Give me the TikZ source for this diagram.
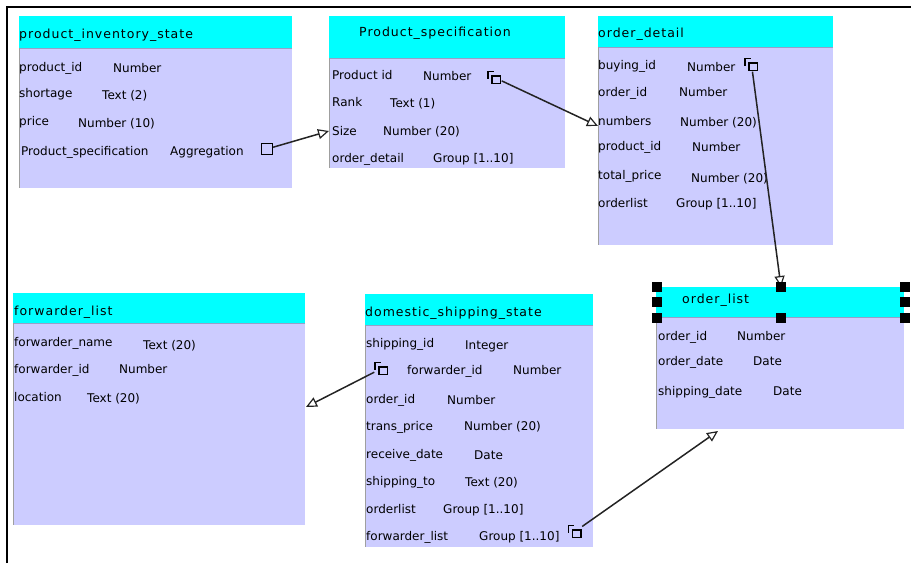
\documentclass[tikz,border=0pt]{standalone}
\usepackage{fontspec}
\setmainfont{DejaVu Sans}
\newfontfamily\titlefont[LetterSpace=8]{DejaVu Sans}
\usetikzlibrary{arrows.meta}

\definecolor{hdrcyan}{RGB}{0,255,255}
\definecolor{bodylav}{RGB}{204,204,255}
\definecolor{hdredge}{RGB}{150,160,200}
\definecolor{linkgray}{RGB}{35,35,35}

\tikzset{
  hdr/.style={fill=hdrcyan, draw=none, anchor=north west, inner sep=0, outer sep=0},
  bodybox/.style={fill=bodylav, draw=none, anchor=north west, inner sep=0, outer sep=0},
  hdrline/.style={draw=hdredge, line width=0.8pt},
  bodyedge/.style={draw=gray!75, line width=0.8pt},
  ttl/.style={anchor=west, inner sep=0, font=\titlefont\fontsize{12.5}{14}\selectfont,
    text height=9pt, text depth=2.5pt},
  fld/.style={anchor=west, inner sep=0, font=\fontsize{12}{14}\selectfont,
    text height=8.5pt, text depth=2.5pt},
  iconline/.style={draw=black, line width=1.3pt},
  link/.style={draw=linkgray, line width=1.5pt,
    -{Triangle[open, length=11pt, width=10pt, line width=1.2pt]}},
  handle/.style={fill=black, draw=none, minimum size=9.5pt, inner sep=0},
}

% entity box: name, x, y, width, header height, body height
\newcommand\erentity[6]{%
  \node[hdr, minimum width=#4pt, minimum height=#5pt] (#1h) at (#2,#3) {};
  \node[bodybox, minimum width=#4pt, minimum height=#6pt] (#1b) at (#1h.south west) {};
  \draw[hdrline] (#1h.south west) -- (#1h.south east);
  \draw[bodyedge] (#1b.north west) -- (#1b.south west);
}

% reference icon (two overlapping squares): name, x, y
\newcommand\refglyph[3]{%
  \node[inner sep=0, minimum size=14pt] (#1) at (#2,#3) {};
  \begin{scope}[shift={(#2,#3)}]
    \draw[iconline] (-6.5,1) -- (-6.5,-6) -- (-1,-6);
    \draw[iconline, fill=bodylav] (-2.5,-1.5) rectangle (6,6);
  \end{scope}
}

\begin{document}
\begin{tikzpicture}[x=1pt, y=-1pt]
\useasboundingbox (0,0) rectangle (911,563);

% outer frame (top and left edges)
\draw[line width=2.5pt] (7,563) -- (7,7) -- (911,7);

% ---------------- product_inventory_state ----------------
\erentity{pis}{19}{16}{273}{32}{140}
\node[ttl] (pisT) at (19,35) {product\_inventory\_state};
\node[fld] (pisN1) at (19,68)  {product\_id};
\node[fld] (pisV1) at (113,69) {Number};
\node[fld] (pisN2) at (19,94)  {shortage};
\node[fld] (pisV2) at (102,96) {Text (2)};
\node[fld] (pisN3) at (19,122) {price};
\node[fld] (pisV3) at (78,124) {Number (10)};
\node[fld] (pisN4) at (21,152) {Product\_specification};
\node[fld] (pisV4) at (170,152) {Aggregation};
\node[draw=black, line width=1.3pt, fill=bodylav, minimum size=11pt, inner sep=0] (pisSq) at (267,149) {};

% ---------------- Product_specification ----------------
\erentity{ps}{329}{16}{236}{42}{110}
\node[ttl] (psT) at (359,33) {Product\_specification};
\node[fld] (psN1) at (332,76)  {Product id};
\node[fld] (psV1) at (423,77)  {Number};
\node[fld] (psN2) at (332,103) {Rank};
\node[fld] (psV2) at (390,104) {Text (1)};
\node[fld] (psN3) at (332,132) {Size};
\node[fld] (psV3) at (383,132) {Number (20)};
\node[fld] (psN4) at (332,159) {order\_detail};
\node[fld] (psV4) at (433,159) {Group [1..10]};
\refglyph{psIc}{494.5}{77.5}

% ---------------- order_detail ----------------
\erentity{od}{598}{16}{235}{31}{198}
\node[ttl] (odT) at (598,34) {order\_detail};
\node[fld] (odN1) at (598,66)  {buying\_id};
\node[fld] (odV1) at (687,68)  {Number};
\node[fld] (odN2) at (598,93)  {order\_id};
\node[fld] (odV2) at (679,93)  {Number};
\node[fld] (odN3) at (598,122) {numbers};
\node[fld] (odV3) at (680,123) {Number (20)};
\node[fld] (odN4) at (598,147) {product\_id};
\node[fld] (odV4) at (692,148) {Number};
\node[fld] (odN5) at (598,176) {total\_price};
\node[fld] (odV5) at (691,179) {Number (20)};
\node[fld] (odN6) at (598,204) {orderlist};
\node[fld] (odV6) at (676,204) {Group [1..10]};
\refglyph{odIc}{751.5}{64.5}

% ---------------- forwarder_list ----------------
\erentity{fl}{13}{293}{292}{30}{202}
\node[ttl] (flT) at (14,312) {forwarder\_list};
\node[fld] (flN1) at (14,343)  {forwarder\_name};
\node[fld] (flV1) at (143,346) {Text (20)};
\node[fld] (flN2) at (14,370)  {forwarder\_id};
\node[fld] (flV2) at (119,370) {Number};
\node[fld] (flN3) at (14,398)  {location};
\node[fld] (flV3) at (87,399)  {Text (20)};

% ---------------- domestic_shipping_state ----------------
\erentity{ds}{365}{294}{228}{31}{222}
\node[ttl] (dsT) at (365,313) {domestic\_shipping\_state};
\node[fld] (dsN1) at (366,344) {shipping\_id};
\node[fld] (dsV1) at (465,346) {Integer};
\refglyph{dsIc1}{381.5}{368.5}
\node[fld] (dsN2) at (407,371) {forwarder\_id};
\node[fld] (dsV2) at (513,371) {Number};
\node[fld] (dsN3) at (366,400) {order\_id};
\node[fld] (dsV3) at (447,401) {Number};
\node[fld] (dsN4) at (366,427) {trans\_price};
\node[fld] (dsV4) at (464,427) {Number (20)};
\node[fld] (dsN5) at (366,455) {receive\_date};
\node[fld] (dsV5) at (474,456) {Date};
\node[fld] (dsN6) at (366,482) {shipping\_to};
\node[fld] (dsV6) at (465,483) {Text (20)};
\node[fld] (dsN7) at (366,510) {orderlist};
\node[fld] (dsV7) at (443,510) {Group [1..10]};
\node[fld] (dsN8) at (366,537) {forwarder\_list};
\node[fld] (dsV8) at (479,537) {Group [1..10]};
\refglyph{dsIc2}{575}{531.5}

% ---------------- order_list ----------------
\erentity{ol}{656}{287}{248}{30}{112}
\node[ttl] (olT) at (682,300) {order\_list};
\node[fld] (olN1) at (658,337) {order\_id};
\node[fld] (olV1) at (737,337) {Number};
\node[fld] (olN2) at (658,362) {order\_date};
\node[fld] (olV2) at (753,362) {Date};
\node[fld] (olN3) at (658,392) {shipping\_date};
\node[fld] (olV3) at (773,392) {Date};

% connector end points on the target boxes
\coordinate (psIn) at (329,131);
\coordinate (odIn) at (598,126);
\coordinate (olTop) at (781,287);
\coordinate (flIn) at (306,407);
\coordinate (olBot) at (718,431);

% connectors
\draw[link] (pisSq) -- (psIn);
\draw[link] (psIc) -- (odIn);
\draw[link] (odIc) -- (olTop);
\draw[link] (dsIc1) -- (flIn);
\draw[link] (dsIc2) -- (olBot);

% selection handles around order_list header
\node[handle] (hNW) at (657,287) {};
\node[handle] (hW)  at (657,302) {};
\node[handle] (hSW) at (657,318) {};
\node[handle] (hN)  at (781,287) {};
\node[handle] (hS)  at (781,318) {};
\node[handle] (hNE) at (905,287) {};
\node[handle] (hE)  at (905,302) {};
\node[handle] (hSE) at (905,318) {};
\end{tikzpicture}
\end{document}
